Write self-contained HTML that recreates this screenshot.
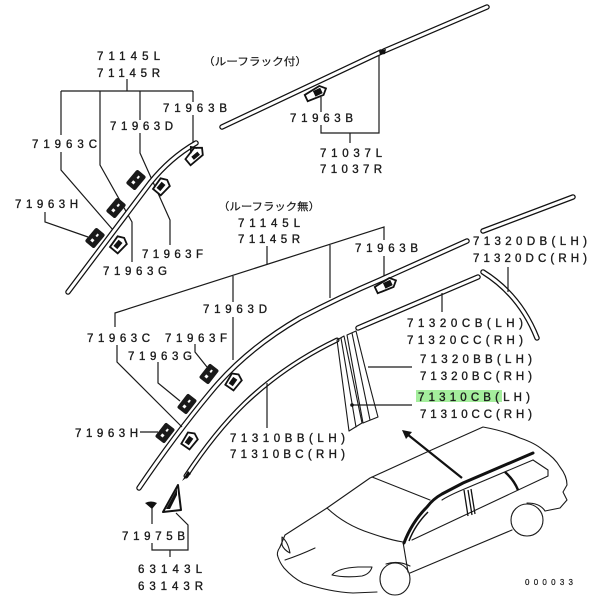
<!DOCTYPE html>
<html><head><meta charset="utf-8"><style>
html,body{margin:0;padding:0;background:#fff;}
svg{display:block;}
text{font-family:"Liberation Sans","Noto Sans CJK JP",sans-serif;font-size:11.5px;fill:#1a1a1a;stroke:#1a1a1a;stroke-width:0.35;}
.jp{font-family:"Liberation Sans","Noto Sans CJK JP",sans-serif;font-size:10.5px;stroke-width:0.2;}
.l{fill:none;stroke:#1a1a1a;stroke-width:1.2;}
.so{fill:none;stroke:#111;stroke-width:5.5;stroke-linecap:round;stroke-linejoin:round;}
.si{fill:none;stroke:#fff;stroke-width:3;stroke-linecap:round;stroke-linejoin:round;}
.c{fill:none;stroke:#1a1a1a;stroke-width:1.1;stroke-linejoin:round;stroke-linecap:round;}
</style></head><body>
<svg width="600" height="600" viewBox="0 0 600 600" xmlns="http://www.w3.org/2000/svg">
<rect width="600" height="600" fill="#fff"/>

<!-- ===== TOP LEFT GROUP ===== -->
<text x="97" y="60" textLength="63" lengthAdjust="spacing">71145L</text>
<text x="97" y="77" textLength="63" lengthAdjust="spacing">71145R</text>
<path class="l" d="M127,79 V91 M61,91 H193"/>
<path class="l" d="M61,91 V135 M61,152 V170 L113,230"/>
<path class="l" d="M100,91 V165 L132,222 V262"/>
<path class="l" d="M140,91 V120 M140,133 V153 L170,220 V245"/>
<path class="l" d="M193,91 V102 M193,115 V143"/>
<path class="l" d="M45,212 V222 L88,237"/>
<text x="163" y="112" textLength="64" lengthAdjust="spacing">71963B</text>
<text x="110" y="130" textLength="63" lengthAdjust="spacing">71963D</text>
<text x="32" y="148" textLength="65" lengthAdjust="spacing">71963C</text>
<text x="15" y="208" textLength="63" lengthAdjust="spacing">71963H</text>
<text x="142" y="258" textLength="61" lengthAdjust="spacing">71963F</text>
<text x="103" y="275" textLength="64" lengthAdjust="spacing">71963G</text>

<path class="so" d="M68,292 L150,183 Q170,158 196,143"/>
<path class="si" d="M68,292 L150,183 Q170,158 196,143"/>

<!-- clips top-left -->
<g transform="translate(136,180) rotate(-50)"><rect x="-9" y="-6" width="18" height="12" rx="2" fill="#1a1a1a"/><rect x="-5" y="-2" width="3" height="3" fill="#fff"/><rect x="2" y="-1" width="3" height="2" fill="#fff"/></g>
<g transform="translate(116,208) rotate(-50)"><rect x="-9" y="-6" width="18" height="12" rx="2" fill="#1a1a1a"/><rect x="-5" y="-2" width="3" height="3" fill="#fff"/><rect x="2" y="-1" width="3" height="2" fill="#fff"/></g>
<g transform="translate(95,238) rotate(-50)"><rect x="-9" y="-6" width="18" height="12" rx="2" fill="#1a1a1a"/><rect x="-5" y="-2" width="3" height="3" fill="#fff"/><rect x="2" y="-1" width="3" height="2" fill="#fff"/></g>
<g transform="translate(162,186) rotate(-50)"><path d="M-8,-5 L5,-6 L8,0 L5,6 L-8,5 Z" fill="#fff" stroke="#111" stroke-width="1.8"/><rect x="-5" y="-3" width="8" height="5" fill="#111"/></g>
<g transform="translate(119,244) rotate(-50)"><path d="M-8,-5 L5,-6 L8,0 L5,6 L-8,5 Z" fill="#fff" stroke="#111" stroke-width="1.8"/><rect x="-5" y="-3" width="8" height="5" fill="#111"/></g>
<g transform="translate(195,155) rotate(-40)"><path d="M-10,-3 L4,-6 L10,-1 L6,5 L-10,5 Z" fill="#fff" stroke="#111" stroke-width="1.8"/><path d="M-2,-4 L2,-9 L6,-4" fill="none" stroke="#111" stroke-width="1.6"/><rect x="-4" y="-1" width="8" height="4" fill="#111"/></g>

<!-- ===== TOP RIGHT (roof rack) ===== -->
<text class="jp" x="203" y="65" textLength="104" lengthAdjust="spacingAndGlyphs">（ルーフラック付）</text>
<path class="so" d="M222,127 L381,52"/>
<path class="si" d="M222,127 L381,52"/>
<path class="so" d="M384,51 L487,7"/>
<path class="si" d="M384,51 L487,7"/>
<path d="M379,51 L386,49 L385,54 L380,55 Z" fill="#111"/>
<g transform="translate(316,93) rotate(-25)"><path d="M-11,-3 L6,-5 L11,0 L6,5 L-11,4 Z" fill="#fff" stroke="#111" stroke-width="1.8"/><rect x="-2" y="-3" width="8" height="6" fill="#111"/></g>
<path class="l" d="M321,97 V112 M321,125 V133 H379 V55 M350,133 V143"/>
<text x="290" y="122" textLength="63" lengthAdjust="spacing">71963B</text>
<text x="320" y="157" textLength="62" lengthAdjust="spacing">71037L</text>
<text x="320" y="173" textLength="62" lengthAdjust="spacing">71037R</text>

<!-- ===== MIDDLE ===== -->
<text class="jp" x="218" y="210" textLength="102" lengthAdjust="spacingAndGlyphs">（ルーフラック無）</text>
<text x="238" y="227" textLength="62" lengthAdjust="spacing">71145L</text>
<text x="238" y="243" textLength="62" lengthAdjust="spacing">71145R</text>
<path class="l" d="M115,327 V313 L384,227 V240 M384,256 V280"/>
<path class="l" d="M267,246 V265"/>
<path class="l" d="M233,276 V302 M233,317 V360"/>
<path class="l" d="M330,245 V298"/>
<text x="355" y="252" textLength="63" lengthAdjust="spacing">71963B</text>
<text x="203" y="313" textLength="64" lengthAdjust="spacing">71963D</text>

<!-- main roof moulding -->
<path class="so" d="M139,488 Q175,435 210,393 Q245,350 300,318 Q340,297 380,280 L467,241"/>
<path class="si" d="M139,488 Q175,435 210,393 Q245,350 300,318 Q340,297 380,280 L467,241"/>
<path class="so" d="M483,231 L573,197"/>
<path class="si" d="M483,231 L573,197"/>
<g transform="translate(386,285) rotate(-25)"><path d="M-11,-3 L6,-5 L11,0 L6,5 L-11,4 Z" fill="#fff" stroke="#111" stroke-width="1.8"/><rect x="-2" y="-3" width="8" height="6" fill="#111"/></g>

<!-- inner door strip -->
<path class="so" d="M186,476 Q215,432 245,403 Q285,365 337,340" style="stroke-width:5"/>
<path class="si" d="M186,476 Q215,432 245,403 Q285,365 337,340" style="stroke-width:2.5"/>
<path d="M182,481 L188,471 L191,474 Z" fill="#111"/>

<!-- 71320CB strip -->
<path class="so" d="M358,328 L478,277"/>
<path class="si" d="M358,328 L478,277"/>
<!-- rear curved piece -->
<path class="so" d="M483,272 Q520,295 537,338"/>
<path class="si" d="M483,272 Q520,295 537,338"/>

<!-- B pillar -->
<path class="c" d="M337,340 L344,336 L362,423 L349,431 Z"/>
<path class="c" d="M341,338 L356,427"/>
<path class="c" d="M347,335 L356,331 Q368,380 378,417 L363,423 Z"/>
<path class="c" d="M352,333 L370,420"/>
<path class="l" d="M368,367 H412 M352,405 H412"/>
<circle cx="352" cy="405" r="1.8" fill="#111"/>

<path class="l" d="M442,293 V312"/>
<path class="l" d="M508,267 V292"/>
<text x="473" y="245" textLength="114" lengthAdjust="spacing">71320DB(LH)</text>
<text x="473" y="262" textLength="114" lengthAdjust="spacing">71320DC(RH)</text>
<text x="407" y="327" textLength="116" lengthAdjust="spacing">71320CB(LH)</text>
<text x="407" y="344" textLength="116" lengthAdjust="spacing">71320CC(RH)</text>
<text x="420" y="363" textLength="112" lengthAdjust="spacing">71320BB(LH)</text>
<text x="420" y="380" textLength="112" lengthAdjust="spacing">71320BC(RH)</text>
<rect x="416" y="390" width="86" height="12" fill="#a4ee9c"/>
<text x="418" y="401" textLength="112" lengthAdjust="spacing">71310CB(LH)</text>
<text x="420" y="418" textLength="112" lengthAdjust="spacing">71310CC(RH)</text>

<!-- ===== BOTTOM LEFT ===== -->
<text x="87" y="342" textLength="63" lengthAdjust="spacing">71963C</text>
<text x="165" y="342" textLength="62" lengthAdjust="spacing">71963F</text>
<text x="128" y="360" textLength="64" lengthAdjust="spacing">71963G</text>
<text x="75" y="437" textLength="63" lengthAdjust="spacing">71963H</text>
<text x="230" y="442" textLength="115" lengthAdjust="spacing">71310BB(LH)</text>
<text x="230" y="458" textLength="115" lengthAdjust="spacing">71310BC(RH)</text>
<path class="l" d="M117,345 V362 L182,427"/>
<path class="l" d="M195,344 V352 L207,367"/>
<path class="l" d="M158,362 V383 L180,401"/>
<path class="l" d="M140,432 H158"/>
<path class="l" d="M267,383 V428"/>

<g transform="translate(209,374) rotate(-52)"><rect x="-9" y="-6" width="18" height="12" rx="2" fill="#1a1a1a"/><rect x="-5" y="-2" width="3" height="3" fill="#fff"/><rect x="2" y="-1" width="3" height="2" fill="#fff"/></g>
<g transform="translate(187,404) rotate(-52)"><rect x="-9" y="-6" width="18" height="12" rx="2" fill="#1a1a1a"/><rect x="-5" y="-2" width="3" height="3" fill="#fff"/><rect x="2" y="-1" width="3" height="2" fill="#fff"/></g>
<g transform="translate(165,433) rotate(-52)"><rect x="-9" y="-6" width="18" height="12" rx="2" fill="#1a1a1a"/><rect x="-5" y="-2" width="3" height="3" fill="#fff"/><rect x="2" y="-1" width="3" height="2" fill="#fff"/></g>
<g transform="translate(234,381) rotate(-55)"><path d="M-8,-5 L5,-6 L8,0 L5,6 L-8,5 Z" fill="#fff" stroke="#111" stroke-width="1.8"/><rect x="-5" y="-3" width="8" height="5" fill="#111"/></g>
<g transform="translate(190,440) rotate(-55)"><path d="M-8,-5 L5,-6 L8,0 L5,6 L-8,5 Z" fill="#fff" stroke="#111" stroke-width="1.8"/><rect x="-5" y="-3" width="8" height="5" fill="#111"/></g>

<!-- 71975B / 63143 -->
<path d="M145,503 Q151,500 157,503 L152,509 Z" fill="#111"/>
<path class="l" d="M152,508 V524"/>
<path d="M178,485 L163,512 L181,510 Z" fill="#fff" stroke="#111" stroke-width="2" stroke-linejoin="round"/>
<path d="M177,489 L166,509 L170,509 L177,495 Z" fill="#111"/>
<path class="l" d="M176,513 L188,525 V550 H152 V543 M170,550 V557"/>
<text x="122" y="540" textLength="63" lengthAdjust="spacing">71975B</text>
<text x="138" y="573" textLength="64" lengthAdjust="spacing">63143L</text>
<text x="138" y="590" textLength="65" lengthAdjust="spacing">63143R</text>

<!-- ===== ARROW ===== -->
<path d="M462,478 L407,434" stroke="#111" stroke-width="2.2" fill="none"/>
<path d="M402,430 L412,432 L406,439 Z" fill="#111"/>

<!-- ===== CAR ===== -->
<g>
<path class="c" d="M280,547 L285,535 L327,508 L370,478 L427,452 L483,427 Q505,431 520,438 Q535,443 543,450 Q555,458 560,467 Q567,476 567,485 L563,492 L567,500 L560,508 L545,511"/>
<path class="c" d="M280,547 Q276,553 278,557 Q280,563 284,568 Q293,578 303,583 Q330,592 353,593 L377,592"/>
<path class="c" d="M282,537 Q288,542 290,553 Q284,550 282,545 Z"/>
<path class="c" d="M332,575 Q338,568 358,567 L372,567 Q370,574 362,576 Q345,578 332,575 Z"/>
<path class="c" d="M327,508 Q345,525 370,533 Q390,540 403,542"/>
<path class="c" d="M372,477 L430,500"/>
<path class="c" d="M403,542 L408,572"/>
<ellipse class="c" cx="395" cy="579" rx="15" ry="16"/>
<path class="c" d="M386,564 Q398,560 410,566"/>
<path class="c" d="M410,573 L512,530"/>
<path class="c" d="M412,540 L548,476"/>
<path class="c" d="M533,460 L548,470 L548,476"/>
<ellipse class="c" cx="527" cy="520" rx="16" ry="16"/>
<path class="c" d="M527,503 Q540,503 545,511"/>
<path class="c" d="M442,500 Q448,496 462,490 L533,460"/>
<path class="c" d="M285,560 Q300,555 315,548"/>
</g>
<path d="M404,543 Q412,522 427,507 Q433,499 442,494 L463,483 L533,453" fill="none" stroke="#111" stroke-width="3" stroke-linecap="round"/>
<path d="M409,541 Q415,525 428,512" fill="none" stroke="#111" stroke-width="1.5"/>
<path d="M464,490 L468,516 M468,490 L472,515 M471,489 L475,514" fill="none" stroke="#111" stroke-width="1.3"/>
<path d="M505,472 Q514,480 518,490" fill="none" stroke="#111" stroke-width="2.5"/>
<text x="525" y="585" style="font-size:8px;stroke-width:0.2" textLength="48" lengthAdjust="spacing">000033</text>
</svg>
</body></html>
